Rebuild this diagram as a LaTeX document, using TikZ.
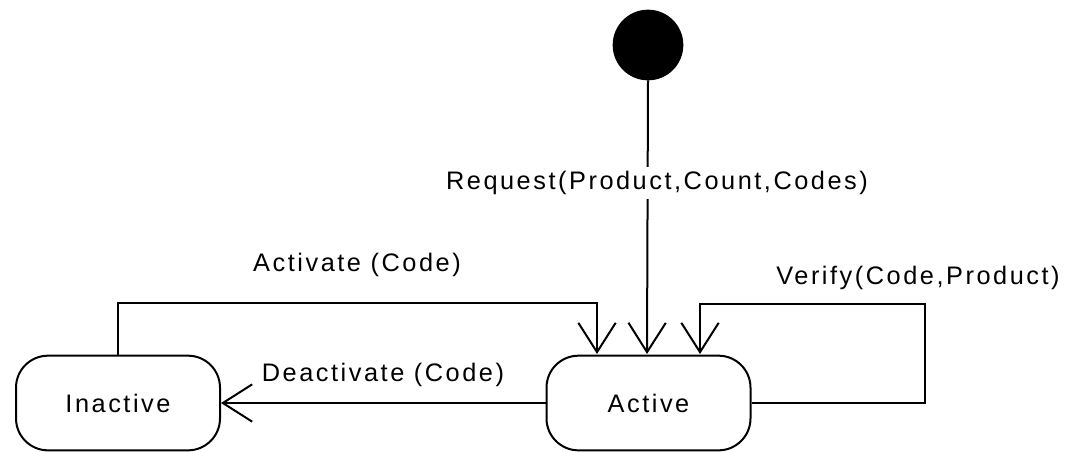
\documentclass[tikz,border=0pt]{standalone}
\usepackage{fontspec}
\setmainfont{Liberation Sans}[LetterSpace=10]
\usetikzlibrary{arrows.meta}
\begin{document}
\begin{tikzpicture}[x=0.75pt,y=-0.75pt,
  state/.style={draw,line width=1.5pt,rounded corners=24pt,minimum width=153pt,minimum height=71pt,inner sep=0pt,font=\fontsize{19}{21}\selectfont},
  conn/.style={line width=1.5pt,-{Straight Barb[length=22pt,width=28pt,line width=1.5pt]}},
  lab/.style={font=\fontsize{19}{21}\selectfont,inner sep=1pt}]
\useasboundingbox (0,0) rectangle (1067,451);
\node[state] (inactive) at (118,403) {Inactive};
\node[state] (active) at (648.5,403) {Active};
\node[circle,fill=black,draw,line width=1pt,minimum size=52pt,inner sep=0pt] (init) at (648,45) {};
\coordinate (a1) at (597,354);
\coordinate (a2) at (647,354);
\coordinate (a3) at (700,354);
\draw[conn] (init.south) -- (a2);
\node[lab,fill=white,inner sep=3pt] (req) at (657,183) {Request(Product,Count,Codes)};
\draw[conn] (inactive.north) |- (597,303) -- (a1);
\node[lab] (actl) at (357,265) {Activate (Code)};
\draw[conn] (active.east) -- (925,403) -- (925,304) -- (700,304) -- (a3);
\node[lab] (verl) at (918,278) {Verify(Code,Product)};
\draw[conn] (active.west) -- (inactive.east);
\node[lab] (deal) at (383,375) {Deactivate (Code)};
\end{tikzpicture}
\end{document}
